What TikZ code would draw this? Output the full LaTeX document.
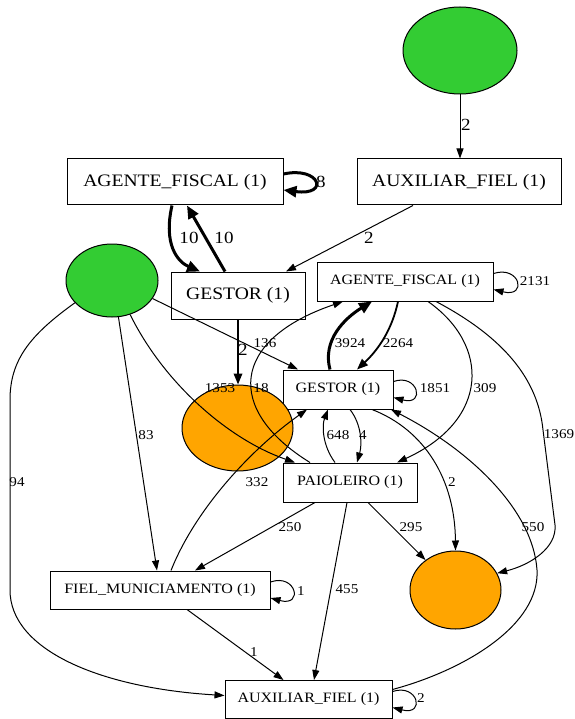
\documentclass[tikz,border=0pt]{standalone}
\usepackage{fontspec}
\setmainfont{Liberation Serif}
\usepackage{graphicx}
\usetikzlibrary{arrows.meta,shapes.geometric}
\definecolor{gnode}{HTML}{33CC33}
\definecolor{onode}{HTML}{FFA500}
\newcommand{\wtxt}[1]{\scalebox{1.12}[1]{#1}}
\tikzset{
 bigbox/.style={draw, rectangle, inner sep=0pt, line width=1pt, font=\fontsize{17.5}{20}\selectfont},
 smallbox/.style={draw, rectangle, inner sep=0pt, line width=1pt, font=\fontsize{14.3}{17}\selectfont},
 greenell/.style={draw, ellipse, fill=gnode, line width=1pt, inner sep=0pt},
 orangeell/.style={draw, ellipse, fill=onode, line width=1pt, inner sep=0pt},
 edge/.style={line width=1pt, -{Triangle[length=10pt,width=7pt]}},
 medge/.style={line width=1.8pt, -{Triangle[length=11pt,width=8.5pt]}},
 thickedge/.style={line width=3pt, -{Triangle[length=13pt,width=11pt]}},
 biglab/.style={font=\fontsize{17}{20}\selectfont, inner sep=0pt},
 smlab/.style={font=\fontsize{13.5}{16}\selectfont, inner sep=0pt},
}
\begin{document}
\begin{tikzpicture}[x=1pt,y=-1pt]
\useasboundingbox (0,0) rectangle (574,719);
% nodes
\node[greenell, minimum width=114pt, minimum height=87pt] (g1) at (460,50.5) {};
\node[bigbox, minimum width=204pt, minimum height=46pt] (aux1) at (459,182) {\wtxt{AUXILIAR\_FIEL (1)}};
\node[bigbox, minimum width=216pt, minimum height=46pt] (af1) at (175,182) {\wtxt{AGENTE\_FISCAL (1)}};
\node[bigbox, minimum width=134pt, minimum height=47pt] (ges1) at (238,295.5) {\wtxt{GESTOR (1)}};
\node[greenell, minimum width=92pt, minimum height=73pt] (gl) at (112,280.5) {};
\node[smallbox, minimum width=176pt, minimum height=39pt] (af2) at (405,281.5) {\wtxt{AGENTE\_FISCAL (1)}};
\node[smallbox, minimum width=110pt, minimum height=39pt] (gm) at (338,389.5) {\wtxt{GESTOR (1)}};
\node[orangeell, minimum width=111pt, minimum height=86pt] (ol) at (237.5,428) {};
\node[smallbox, minimum width=134pt, minimum height=39pt] (pa) at (350,482.5) {\wtxt{PAIOLEIRO (1)}};
\node[smallbox, minimum width=220pt, minimum height=38pt] (fm) at (160,590) {\wtxt{FIEL\_MUNICIAMENTO (1)}};
\node[orangeell, minimum width=91pt, minimum height=78pt] (or) at (455.5,590) {};
\node[smallbox, minimum width=167pt, minimum height=38pt] (axb) at (308.5,699.5) {\wtxt{AUXILIAR\_FIEL (1)}};

% top edges
\draw[edge] (g1.south) -- (g1.south |- aux1.north);
\node[biglab] (l1) at (466,125) {\wtxt{2}};
\draw[thickedge] ([yshift=8pt]af1.east) .. controls (320,166) and (330,196) .. ([yshift=-8pt]af1.east);
\node[biglab] (l2) at (321,182) {\wtxt{8}};
\draw[thickedge] ([xshift=-3pt]af1.south) .. controls (163,245) and (178,262) .. ([xshift=-38pt]ges1.north);
\node[biglab] (l3) at (189,238) {\wtxt{10}};
\draw[thickedge] ([xshift=-13pt]ges1.north) -- ([xshift=12pt]af1.south);
\node[biglab] (l4) at (224,238) {\wtxt{10}};
\draw[edge] ([xshift=-46pt]aux1.south) -- ([xshift=48pt]ges1.north);
\node[biglab] (l5) at (369,238) {\wtxt{2}};
\draw[medge] (ges1.south) -- (ges1.south |- ol.north);
\node[biglab] (l6) at (243,350) {\wtxt{2}};

% green left edges
\draw[edge] (gl.-24) -- ([xshift=-40pt]gm.north);
\node[smlab] (l7) at (265,343) {\wtxt{136}};
\draw[edge] (gl.-62) .. controls (165,385) and (230,440) .. ([xshift=-55pt]pa.north);
\node[smlab] (l8) at (220,388) {\wtxt{1353}};
\draw[edge] (gl.-80) -- ([xshift=-3pt]fm.north);
\node[smlab] (l9) at (146,435) {\wtxt{83}};
\draw[edge] (gl.-149) .. controls (30,335) and (10,360) .. (10,400) -- (10,590) .. controls (10,650) and (100,688) .. ([yshift=4pt]axb.west);
\node[smlab] (l10) at (17,482) {\wtxt{94}};

% agente fiscal 2
\draw[edge] ([yshift=8pt]af2.east) .. controls (520,265) and (528,298) .. ([yshift=-8pt]af2.east);
\node[smlab] (l11) at (535,281) {\wtxt{2131}};
\draw[thickedge] ([xshift=-8pt]gm.north) .. controls (322,340) and (345,318) .. ([xshift=-33pt]af2.south);
\node[smlab] (l12) at (350,343) {\wtxt{3924}};
\draw[medge] ([xshift=-7pt]af2.south) .. controls (392,330) and (378,350) .. ([xshift=19pt]gm.north);
\node[smlab] (l13) at (398,343) {\wtxt{2264}};
\draw[edge] ([xshift=23pt]af2.south) .. controls (490,345) and (490,420) .. ([xshift=47pt]pa.north);
\node[smlab] (l14) at (485,388) {\wtxt{309}};
\draw[edge] ([xshift=31pt]af2.south) .. controls (505,338) and (538,380) .. (543,430) -- (555,525) .. controls (557,548) and (530,565) .. (or.22);
\node[smlab] (l15) at (559,434) {\wtxt{1369}};
\draw[edge] ([xshift=-40pt]pa.north) .. controls (225,410) and (230,340) .. ([xshift=-62pt]af2.south);
\node[smlab] (l16) at (261,388) {\wtxt{18}};

% gestor mid
\draw[edge] ([yshift=8pt]gm.east) .. controls (418,373) and (426,406) .. ([yshift=-8pt]gm.east);
\node[smlab] (l17) at (435,388) {\wtxt{1851}};
\draw[edge] ([xshift=12pt]gm.south) .. controls (362,425) and (362,445) .. ([xshift=7pt]pa.north);
\node[smlab] (l18) at (363,435) {\wtxt{4}};
\draw[edge] ([xshift=-15pt]pa.north) .. controls (322,445) and (322,425) .. ([xshift=-10pt]gm.south);
\node[smlab] (l19) at (338,435) {\wtxt{648}};
\draw[edge] ([xshift=34pt]gm.south) .. controls (425,430) and (455,480) .. (or.north);
\node[smlab] (l20) at (452,482) {\wtxt{2}};
\draw[edge] ([xshift=11pt]fm.north) .. controls (195,510) and (250,450) .. ([xshift=-31pt]gm.south);
\node[smlab] (l21) at (257,482) {\wtxt{332}};

% paioleiro
\draw[edge] ([xshift=-35pt]pa.south) -- ([xshift=35pt]fm.north);
\node[smlab] (l22) at (290,527) {\wtxt{250}};
\draw[edge] ([xshift=18pt]pa.south) -- (or.135);
\node[smlab] (l23) at (411,527) {\wtxt{295}};
\draw[edge] ([xshift=-3pt]pa.south) -- ([xshift=5.5pt]axb.north);
\node[smlab] (l24) at (347,589) {\wtxt{455}};

% fiel municiamento
\draw[edge] ([yshift=8pt]fm.east) .. controls (296,573) and (304,607) .. ([yshift=-8pt]fm.east);
\node[smlab] (l25) at (301,591) {\wtxt{1}};
\draw[edge] ([xshift=27pt]fm.south) -- ([xshift=-25pt]axb.north);
\node[smlab] (l26) at (254,652) {\wtxt{1}};

% auxiliar fiel bottom
\draw[edge] ([yshift=10pt]axb.east) .. controls (465,670) and (540,625) .. (537,570) .. controls (533,510) and (470,450) .. ([xshift=53pt]gm.south);
\node[smlab] (l27) at (533,527) {\wtxt{550}};
\draw[edge] ([yshift=8pt]axb.east) .. controls (418,683) and (426,716) .. ([yshift=-8pt]axb.east);
\node[smlab] (l28) at (421,698) {\wtxt{2}};
\end{tikzpicture}
\end{document}
